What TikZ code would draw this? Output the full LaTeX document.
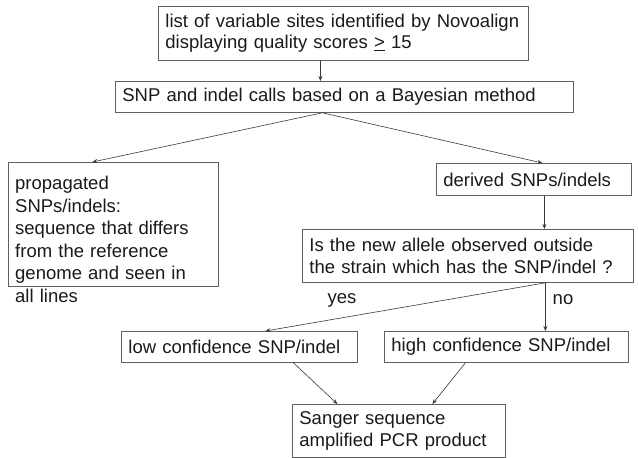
\documentclass[tikz,border=0pt]{standalone}
\usepackage{fontspec}
\setmainfont{Liberation Sans}
\usetikzlibrary{arrows.meta}
\definecolor{boxgray}{HTML}{606060}
\definecolor{linegray}{HTML}{3A3A3A}
\definecolor{textgray}{HTML}{1A1A1A}
\begin{document}
\begin{tikzpicture}[x=1pt,y=-1pt,
  every node/.style={font=\fontsize{18.5}{21.5}\selectfont, text=textgray},
  box/.style={draw=boxgray, line width=0.8pt, anchor=north west, inner ysep=0pt, inner xsep=7pt, align=left},
  arr/.style={draw=linegray, line width=0.6pt, -{Stealth[length=5pt,width=4pt]}},
  lbl/.style={inner sep=0pt}]
\fill[white] (0,0) rectangle (638,458);
\useasboundingbox (0,0) rectangle (638,458);

\node[box, text width=356pt, minimum height=54pt] (b1) at (158,6)
  {list of variable sites identified by Novoalign\\displaying quality scores \underline{>} 15};
\node[box, text width=444pt, minimum height=31pt] (b2) at (115,81)
  {SNP and indel calls based on a Bayesian method};
\node[box, minimum width=210pt, minimum height=123.5pt, inner sep=0pt] (lb) at (8,162) {};
\node[anchor=north west, inner sep=0pt, text width=205pt, align=left,
      font=\fontsize{18.5}{22.5}\selectfont] (lbt) at (15,176)
  {propagated\\SNPs/indels:\\sequence that differs\\from the reference\\genome and seen in\\all lines};
\node[box, text width=181pt, minimum height=32pt] (dv) at (436,163)
  {derived SNPs/indels};
\node[box, text width=317pt, minimum height=53pt] (q) at (302,229)
  {Is the new allele observed outside\\the strain which has the SNP/indel ?};
\node[box, text width=222pt, minimum height=31pt] (lo) at (121,331)
  {low confidence SNP/indel};
\node[box, text width=230pt, minimum height=31pt] (hi) at (384,331)
  {high confidence SNP/indel};
\node[box, text width=199pt, minimum height=53pt] (sa) at (292,404)
  {Sanger sequence\\amplified PCR product};
\node[lbl] (yes) at (342,300) {yes};
\node[lbl] (no) at (563,300) {no};

\draw[arr] ([xshift=-23pt]b1.south) -- ([xshift=-24pt]b2.north);
\draw[arr] ([xshift=-22pt]b2.south) -- ([xshift=-21pt]lb.north);
\draw[arr] ([xshift=-22pt]b2.south) -- ([xshift=8.5pt]dv.north);
\draw[arr] ([xshift=10.5pt]dv.south) -- ([xshift=76.5pt]q.north);
\draw[arr] ([xshift=77.5pt]q.south) -- ([xshift=26pt]lo.north);
\draw[arr] ([xshift=77.5pt]q.south) -- ([xshift=39pt]hi.north);
\draw[arr] ([xshift=54pt]lo.south) -- ([xshift=-61.5pt]sa.north);
\draw[arr] ([xshift=-41pt]hi.south) -- ([xshift=33.5pt]sa.north);
\end{tikzpicture}
\end{document}
